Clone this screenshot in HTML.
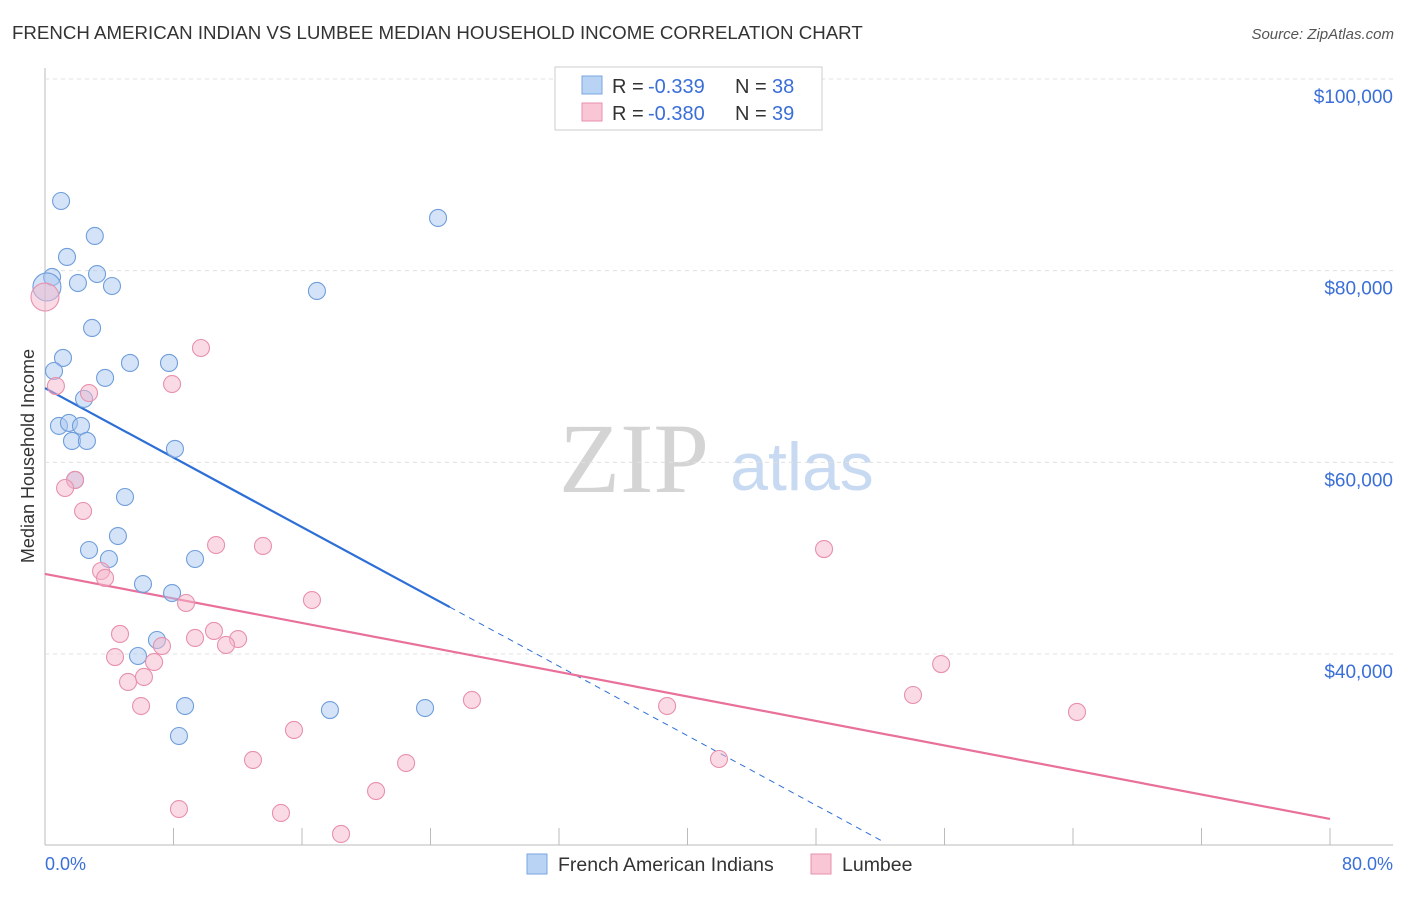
<!DOCTYPE html>
<html><head><meta charset="utf-8"><style>
body{margin:0;background:#fff;font-family:"Liberation Sans",sans-serif;}
</style></head><body>
<svg id="chart" width="1406" height="892" font-family="Liberation Sans, sans-serif">
<text x="12" y="39" font-size="18.7" fill="#333">FRENCH AMERICAN INDIAN VS LUMBEE MEDIAN HOUSEHOLD INCOME CORRELATION CHART</text>
<text x="1394" y="39" font-size="15" fill="#555" font-style="italic" text-anchor="end">Source: ZipAtlas.com</text>
<text transform="translate(34,456) rotate(-90)" font-size="18" fill="#333" text-anchor="middle">Median Household Income</text>
<g>
<text x="634" y="492" font-size="100" fill="#d4d4d4" style="font-family:'Liberation Serif',serif" text-anchor="middle">ZIP</text>
<text x="802" y="490" font-size="68" fill="#c8daf2" text-anchor="middle">atlas</text>
</g>
<g id="grid"></g><g id="ticks"></g><g id="lines"></g><g id="pts"></g>
<text x="45" y="870" font-size="18" fill="#3a6fd8">0.0%</text>
<text x="1393" y="870" font-size="18" fill="#3a6fd8" text-anchor="end">80.0%</text>
<g>
<rect x="555" y="67" width="267" height="63" fill="#fff" stroke="#ccc"/>
<rect x="582" y="76" width="20" height="18" fill="#b9d3f5" stroke="#7aa6e0"/>
<rect x="582" y="103" width="20" height="18" fill="#f9c6d6" stroke="#e890ac"/>
<text x="612" y="93" font-size="20" fill="#333">R =</text>
<text x="648" y="93" font-size="20" fill="#3a6fd8">-0.339</text>
<text x="735" y="93" font-size="20" fill="#333">N =</text>
<text x="772" y="93" font-size="20" fill="#3a6fd8">38</text>
<text x="612" y="120" font-size="20" fill="#333">R =</text>
<text x="648" y="120" font-size="20" fill="#3a6fd8">-0.380</text>
<text x="735" y="120" font-size="20" fill="#333">N =</text>
<text x="772" y="120" font-size="20" fill="#3a6fd8">39</text>
</g>
<g>
<rect x="527" y="854" width="20" height="20" fill="#b9d3f5" stroke="#7aa6e0"/>
<text x="558" y="871" font-size="19.5" fill="#333">French American Indians</text>
<rect x="811" y="854" width="20" height="20" fill="#f9c6d6" stroke="#e890ac"/>
<text x="842" y="871" font-size="19.5" fill="#333">Lumbee</text>
</g>
</svg>
<script>
const yTicks=[40000,60000,80000,100000];
const yTickLabels=["$40,000","$60,000","$80,000","$100,000"];
const xTicks=[0,8,16,24,32,40,48,56,64,72,80];
const blueX=[1.0,3.1,1.37,0.44,3.24,2.05,4.17,0.12,2.93,1.12,0.56,5.29,7.72,3.74,2.43,0.87,1.49,2.24,1.68,2.61,8.09,1.87,4.98,4.54,2.74,3.98,9.34,6.10,7.91,6.97,5.79,8.72,8.34,17.74,23.66,16.93,24.47];
const blueY=[87270,83620,81430,79340,79650,78710,78400,78300,74020,70890,69530,70370,70370,68810,66620,63800,64110,63800,62230,62230,61400,58160,56380,52310,50850,49910,49910,47300,46360,41460,39790,34570,31440,34150,34360,77880,85500];
const pinkX=[0,0.68,2.74,9.71,7.91,1.87,1.25,2.37,3.49,3.74,10.65,13.57,48.5,8.78,16.62,4.67,10.52,9.34,12.02,11.27,7.28,4.36,6.79,6.16,5.17,5.98,26.58,38.73,54.04,55.79,64.25,15.50,12.95,22.48,41.96,20.61,8.34,14.69,18.43];
const pinkY=[77250,67960,67230,71930,68170,58160,57320,54920,48660,47930,51370,51270,50950,45320,45630,42090,42400,41670,41560,40940,40830,39680,39160,37600,37080,34570,35200,34570,35720,38950,33950,32070,28940,28620,29040,25700,23820,23410,21220];
const blueTrend=[67750,-907];
const pinkTrend=[48350,-319.6];
const X=v=>45+v/80*1285;
const Y=v=>79+(100000-v)*0.009583;
const NS="http://www.w3.org/2000/svg";
function mk(t,a,p){const e=document.createElementNS(NS,t);for(const k in a)e.setAttribute(k,a[k]);document.getElementById(p).appendChild(e);return e;}
mk("line",{x1:45,x2:45,y1:68,y2:845,stroke:"#bbb"},"grid");
mk("line",{x1:45,x2:1393,y1:845,y2:845,stroke:"#bbb"},"grid");
yTicks.forEach((v,i)=>{
 const g=mk("line",{x1:45,x2:1393,y1:Y(v),y2:Y(v),stroke:"#e0e0e0","stroke-dasharray":"4,4"},"grid");
 
 
 const t=mk("text",{x:1393,y:Y(v)+24,"font-size":19,fill:"#3a6fd8","text-anchor":"end"},"ticks");
 t.textContent=yTickLabels[i];
 
 
});
xTicks.forEach(v=>{
 const l=mk("line",{x1:X(v),x2:X(v),y1:828,y2:845,stroke:"#bbb"},"ticks");
 
 
});
function trend(tr,x0,x1,col,dash,name){
 const l=mk("line",{x1:X(x0),y1:Y(tr[0]+tr[1]*x0),x2:X(x1),y2:Y(tr[0]+tr[1]*x1),stroke:col,"stroke-width":dash?1:2.2},"lines");
 if(dash)l.setAttribute("stroke-dasharray","6,5");
 
 
}
trend(blueTrend,0,25.2,"#2d6fd6",false,"blue-trend-line");
trend(blueTrend,25.2,52.1,"#2d6fd6",true,"blue-trend-extension");
trend(pinkTrend,0,80,"#e8709a",false,"pink-trend-line");
function pts(xs,ys,fill,stroke,name){
 xs.forEach((x,i)=>{
  const r=(x<0.2)?14:8.5;
  const c=mk("circle",{cx:X(x),cy:Y(ys[i]),r:r,fill:fill,"fill-opacity":0.5,stroke:stroke,"stroke-width":1.1},"pts");
  
  
 });
}
pts(blueX,blueY,"#a9c8f0","#6f9edc","french-american-indian-point");
pts(pinkX,pinkY,"#f5b8cb","#e890ac","lumbee-point");
</script>
</body></html>
